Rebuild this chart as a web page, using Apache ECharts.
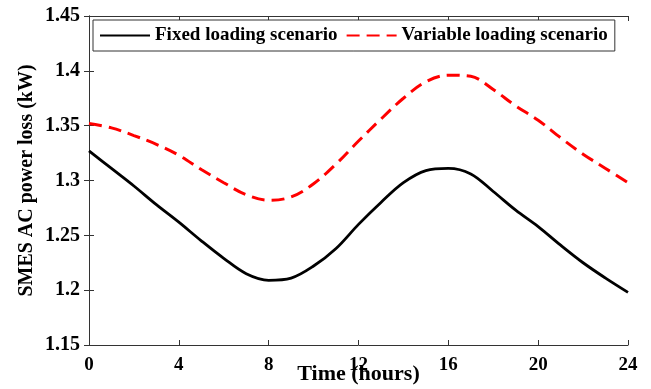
<!DOCTYPE html>
<html>
<head>
<meta charset="utf-8">
<script src="https://cdn.jsdelivr.net/npm/echarts@6/dist/echarts.min.js"></script>
<style>
  html, body { margin: 0; padding: 0; background: #fff; }
  #chart { width: 651px; height: 389px; }
</style>
</head>
<body>
<div id="chart"></div>
<script>
// Hours of the day
const hours = [0, 1, 2, 3, 4, 5, 6, 7, 8, 9, 10, 11, 12, 13, 14, 15, 16, 17, 18, 19, 20, 21, 22, 23, 24];

// SMES AC power loss (kW), fixed loading
const fixedLoss = [1.327, 1.311, 1.295, 1.278, 1.262, 1.245, 1.229, 1.215, 1.209, 1.211, 1.222, 1.238, 1.260, 1.280, 1.298, 1.309, 1.311, 1.306, 1.290, 1.273, 1.258, 1.241, 1.225, 1.211, 1.198];

// SMES AC power loss (kW), variable loading
const variableLoss = [1.352, 1.348, 1.341, 1.333, 1.323, 1.310, 1.298, 1.287, 1.282, 1.285, 1.297, 1.315, 1.336, 1.356, 1.375, 1.390, 1.396, 1.395, 1.383, 1.368, 1.355, 1.339, 1.324, 1.311, 1.298];

const seriesNames = ['Fixed loading scenario', 'Variable loading scenario'];
const xTitle = 'Time (hours)';
const yTitle = 'SMES AC power loss (kW)';

const serif = '"Liberation Serif", "DejaVu Serif", serif';
const axisColor = '#333';

const pairs = (ys) => hours.map((h, i) => [h, ys[i]]);

const chart = echarts.init(document.getElementById('chart'), null, { renderer: 'canvas' });

const tickInside = { show: true, inside: true, length: 5, lineStyle: { color: axisColor, width: 1 } };

chart.setOption({
  animation: false,
  backgroundColor: '#fff',
  grid: { left: 89, right: 23, top: 16, bottom: 44, containLabel: false, outerBoundsMode: 'none' },
  legend: {
    left: 93,
    top: 20,
    orient: 'horizontal',
    padding: [6, 7, 6, 6],
    itemGap: 8,
    itemWidth: 50,
    itemHeight: 14,
    borderColor: '#333',
    borderWidth: 1,
    backgroundColor: '#fff',
    itemStyle: { color: 'transparent', borderWidth: 0 },
    textStyle: { fontFamily: serif, fontWeight: 'bold', fontSize: 19, color: '#000' },
    data: seriesNames
  },
  xAxis: [
    {
      type: 'value', min: 0, max: 24, interval: 4,
      name: xTitle, nameLocation: 'middle', nameGap: 18, nameMoveOverlap: false,
      nameTextStyle: { fontFamily: serif, fontWeight: 'bold', fontSize: 22, color: '#000' },
      axisLine: { show: true, lineStyle: { color: axisColor, width: 1 } },
      axisTick: tickInside,
      axisLabel: { fontFamily: serif, fontWeight: 'bold', fontSize: 19, color: '#000', margin: 11 },
      splitLine: { show: false }
    },
    {
      type: 'value', position: 'top', min: 0, max: 24, interval: 4,
      axisLine: { show: true, lineStyle: { color: axisColor, width: 1 } },
      axisTick: tickInside,
      axisLabel: { show: false },
      splitLine: { show: false }
    }
  ],
  yAxis: [
    {
      type: 'value', min: 1.15, max: 1.45, interval: 0.05,
      name: yTitle, nameLocation: 'middle', nameGap: 52, nameRotate: 90, nameMoveOverlap: false,
      nameTextStyle: { fontFamily: serif, fontWeight: 'bold', fontSize: 20, color: '#000' },
      axisLine: { show: true, lineStyle: { color: axisColor, width: 1 } },
      axisTick: tickInside,
      axisLabel: {
        fontFamily: serif, fontWeight: 'bold', fontSize: 20, color: '#000', margin: 9,
        formatter: (v) => parseFloat(v.toFixed(2)).toString()
      },
      splitLine: { show: false }
    },
    {
      type: 'value', position: 'right', min: 1.15, max: 1.45, interval: 0.05,
      axisLine: { show: true, lineStyle: { color: axisColor, width: 1 } },
      axisTick: tickInside,
      axisLabel: { show: false },
      splitLine: { show: false }
    }
  ],
  series: [
    {
      name: seriesNames[0], type: 'line', xAxisIndex: 0, yAxisIndex: 0,
      data: pairs(fixedLoss), smooth: 0.35, symbol: 'none',
      lineStyle: { color: '#000', width: 2.8, type: 'solid' },
      itemStyle: { color: '#000' }
    },
    {
      name: seriesNames[1], type: 'line', xAxisIndex: 0, yAxisIndex: 0,
      data: pairs(variableLoss), smooth: 0.35, symbol: 'none',
      lineStyle: { color: '#ff0000', width: 3, type: [13, 7] },
      itemStyle: { color: '#ff0000' }
    }
  ]
});
</script>
</body>
</html>
